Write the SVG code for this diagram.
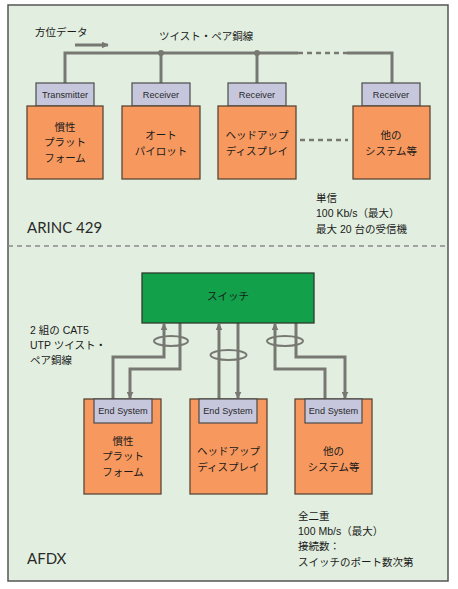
<svg xmlns="http://www.w3.org/2000/svg" width="458" height="589" viewBox="0 0 458 589">
<style>
.t{font-family:"Liberation Sans","Noto Sans CJK JP",sans-serif;font-size:10.5px;fill:#1a1a1a}
.c{text-anchor:middle;dominant-baseline:central}
.lab{font-family:"Liberation Sans",Arial,sans-serif;font-size:9.2px;fill:#2a2a2a;text-anchor:middle;dominant-baseline:central}
.big{font-family:Lato,"Liberation Sans",sans-serif;font-size:15px;fill:#2a2a2a;dominant-baseline:central}
.box{fill:#f7995f;stroke:#5b4536;stroke-width:1.3}
.lb{fill:#c6c7dc;stroke:#4a4a4a;stroke-width:1.2}
.w{fill:none;stroke:#787872;stroke-width:3}
.dash{fill:none;stroke:#787872;stroke-width:2.5;stroke-dasharray:5 4}
.el{fill:none;stroke:#787872;stroke-width:2}
</style>
<defs>
<marker id="ah" viewBox="0 0 10 10" refX="9" refY="5" markerWidth="7" markerHeight="7" markerUnits="userSpaceOnUse" orient="auto">
<path d="M0,0 L10,5 L0,10 z" fill="#787872"/>
</marker>
</defs>
<rect x="0" y="0" width="458" height="589" fill="#ffffff"/>
<rect x="8" y="5" width="440" height="576" fill="#e2efe0" stroke="#555" stroke-width="1.5"/>
<line x1="8" y1="246" x2="448" y2="246" stroke="#8a8a8a" stroke-width="1.5" stroke-dasharray="5 4"/>

<g id="connectors">
<line x1="75" y1="45" x2="108" y2="45" class="w" stroke-width="2" marker-end="url(#ah)"/>
<path class="w" d="M65 83 V53 H298"/>
<path class="dash" d="M298 53 H347" stroke-width="3"/>
<path class="w" d="M347 53 H392 V83"/>
<line class="w" x1="161" y1="53" x2="161" y2="83"/>
<line class="w" x1="257" y1="53" x2="257" y2="83"/>
<circle cx="161" cy="53" r="3" fill="#787872"/>
<circle cx="257" cy="53" r="3" fill="#787872"/>
<path class="dash" d="M300 140 H348"/>

<path class="w" d="M113 399 V357 H164 V324" marker-end="url(#ah)"/>
<path class="w" d="M180 323 V369 H130 V398" marker-end="url(#ah)"/>
<path class="w" d="M219 399 V324" marker-end="url(#ah)"/>
<path class="w" d="M238 323 V398" marker-end="url(#ah)"/>
<path class="w" d="M325 399 V369 H275 V324" marker-end="url(#ah)"/>
<path class="w" d="M296 323 V357 H345 V398" marker-end="url(#ah)"/>
<ellipse class="el" cx="171" cy="341" rx="17" ry="5"/>
<ellipse class="el" cx="228.5" cy="355" rx="18" ry="5"/>
<ellipse class="el" cx="285" cy="341" rx="18" ry="5"/>
</g>

<text class="t" x="35" y="32" dominant-baseline="central" font-size="10">方位データ</text>
<text class="t" x="159" y="36" dominant-baseline="central">ツイスト・ペア銅線</text>

<g id="n1">
<rect class="lb" x="36" y="83" width="58" height="23"/>
<text class="lab" x="65" y="95">Transmitter</text>
<rect class="box" x="27" y="106" width="76" height="73"/>
<text class="t c" x="65" y="127">慣性</text>
<text class="t c" x="65" y="142">プラット</text>
<text class="t c" x="65" y="158">フォーム</text>
</g>
<g id="n2">
<rect class="lb" x="132" y="83" width="58" height="23"/>
<text class="lab" x="161" y="95">Receiver</text>
<rect class="box" x="122" y="106" width="78" height="73"/>
<text class="t c" x="161" y="135">オート</text>
<text class="t c" x="161" y="151">パイロット</text>
</g>
<g id="n3">
<rect class="lb" x="228" y="83" width="58" height="23"/>
<text class="lab" x="257" y="95">Receiver</text>
<rect class="box" x="218" y="106" width="78" height="73"/>
<text class="t c" x="257" y="135">ヘッドアップ</text>
<text class="t c" x="257" y="151">ディスプレイ</text>
</g>
<g id="n4">
<rect class="lb" x="362" y="83" width="58" height="23"/>
<text class="lab" x="391" y="95">Receiver</text>
<rect class="box" x="353" y="106" width="77" height="73"/>
<text class="t c" x="391" y="135">他の</text>
<text class="t c" x="391" y="151">システム等</text>
</g>

<g id="note1">
<text class="t" x="316" y="198" dominant-baseline="central" font-size="10">単信</text>
<text class="t" x="316" y="213" dominant-baseline="central" font-size="10">100 Kb/s（最大）</text>
<text class="t" x="316" y="229" dominant-baseline="central" font-size="10">最大 20 台の受信機</text>
</g>
<text class="big" x="27" y="227">ARINC 429</text>

<g id="switch">
<rect x="142" y="273" width="172" height="50" fill="#12a04a" stroke="#2d3a2d" stroke-width="1.3"/>
<text class="t c" x="228" y="296">スイッチ</text>
</g>

<g id="note2">
<text class="t" x="30" y="330" dominant-baseline="central" font-size="10">2 組の CAT5</text>
<text class="t" x="30" y="345" dominant-baseline="central" font-size="10">UTP ツイスト・</text>
<text class="t" x="30" y="360" dominant-baseline="central" font-size="10">ペア銅線</text>
</g>

<g id="es1">
<rect class="box" x="84" y="399" width="77" height="95"/>
<rect class="lb" x="94" y="399" width="58" height="24"/>
<text class="lab" x="123" y="411">End System</text>
<text class="t c" x="123" y="441">慣性</text>
<text class="t c" x="123" y="456">プラット</text>
<text class="t c" x="123" y="472">フォーム</text>
</g>
<g id="es2">
<rect class="box" x="190" y="399" width="77" height="95"/>
<rect class="lb" x="199" y="399" width="58" height="24"/>
<text class="lab" x="228" y="411">End System</text>
<text class="t c" x="228.5" y="451">ヘッドアップ</text>
<text class="t c" x="228.5" y="467">ディスプレイ</text>
</g>
<g id="es3">
<rect class="box" x="295" y="399" width="77" height="95"/>
<rect class="lb" x="305" y="399" width="57" height="24"/>
<text class="lab" x="333.5" y="411">End System</text>
<text class="t c" x="333.5" y="451">他の</text>
<text class="t c" x="333.5" y="467">システム等</text>
</g>

<g id="note3">
<text class="t" x="298" y="516" dominant-baseline="central" font-size="10">全二重</text>
<text class="t" x="298" y="531" dominant-baseline="central" font-size="10">100 Mb/s（最大）</text>
<text class="t" x="298" y="546" dominant-baseline="central" font-size="10">接続数：</text>
<text class="t" x="298" y="562" dominant-baseline="central" font-size="10">スイッチのポート数次第</text>
</g>
<text class="big" x="27" y="558">AFDX</text>
</svg>
